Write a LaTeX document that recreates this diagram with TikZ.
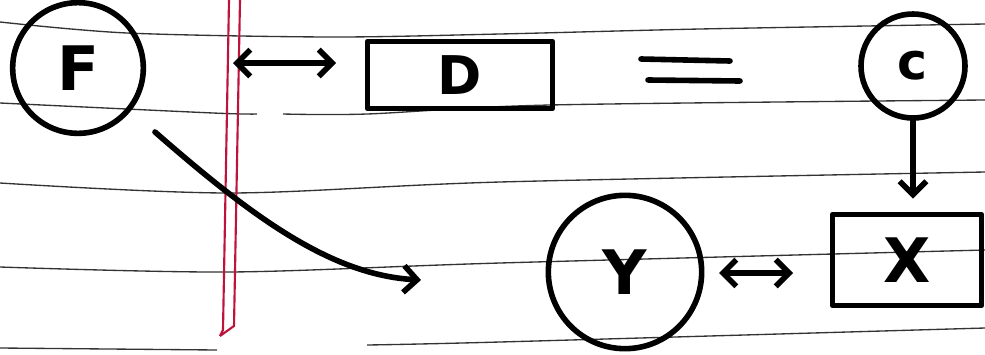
\documentclass[tikz,border=0pt]{standalone}
\usepackage{fontspec}
\setmainfont{DejaVu Sans}
\usetikzlibrary{arrows.meta}
\begin{document}
\begin{tikzpicture}[x=0.75pt,y=-0.75pt,
  ink/.style={line width=4.2pt,draw=black,line cap=round,line join=round},
  circ/.style={ink,circle,inner sep=0pt},
  boxnode/.style={ink,rectangle,inner sep=0pt},
  lbl/.style={font=\fontsize{46}{46}\selectfont\bfseries},
  tip/.tip={Straight Barb[length=10pt,width=20pt,line width=4.2pt]},
  arr/.style={ink,-tip},
  darr/.style={ink,tip-tip},
  rule/.style={line width=1pt,draw=black!80},
  margin/.style={line width=1.6pt,draw={rgb,255:red,190;green,20;blue,60}}
]
\useasboundingbox (0,0) rectangle (985,354);
\fill[white] (0,0) rectangle (985,354);
% ruled paper
\draw[rule] plot[smooth] coordinates {(0,22) (127,33) (330,37) (500,34) (700,29) (985,24)};
\draw[rule] plot[smooth] coordinates {(0,103) (213,113) (257,114)};
\draw[rule] plot[smooth] coordinates {(283,114) (367,114) (550,105) (985,100)};
\draw[rule] plot[smooth] coordinates {(0,183) (230,193) (500,182) (985,172)};
\draw[rule] plot[smooth] coordinates {(0,267) (230,272) (500,263) (985,250)};
\draw[rule] plot[smooth] coordinates {(0,348) (217,350)};
\draw[rule] plot[smooth] coordinates {(367,345) (500,342) (985,328)};
% margin
\draw[margin] (229,0) -- (223,330) -- (220,336);
\draw[margin] (240,0) -- (234,326) -- (220,336);
% nodes
\node[circ,minimum size=98pt,lbl] (F) at (78,68) {F};
\node[boxnode,minimum width=139pt,minimum height=50pt,lbl,font=\fontsize{40}{40}\selectfont\bfseries] (D) at (460,75) {D};
\node[circ,minimum size=78pt,lbl,font=\fontsize{38}{38}\selectfont\bfseries] (c) at (913,66) {c};
\node[boxnode,minimum width=112pt,minimum height=68pt,lbl] (X) at (907,260) {X};
\node[circ,minimum size=115pt,lbl] (Y) at (625,272) {Y};
% equals sign
\coordinate (e1) at (641,59); \coordinate (e2) at (730,61);
\coordinate (e3) at (648,80); \coordinate (e4) at (740,81);
\draw[ink] (e1) -- (e2);
\draw[ink] (e3) -- (e4);
% connectors
\coordinate (fd1) at (233,63); \coordinate (fd2) at (336,63);
\draw[darr] (fd1) -- (fd2);
\draw[arr,shorten >=10pt] (c) -- (c |- X.north);
\coordinate (yx1) at (719,273); \coordinate (yx2) at (793,273);
\draw[darr] (yx1) -- (yx2);
\coordinate (fs) at (155,132); \coordinate (fe) at (421,280);
\draw[arr] (fs) .. controls (250,215) and (330,275) .. (fe);
\end{tikzpicture}
\end{document}
